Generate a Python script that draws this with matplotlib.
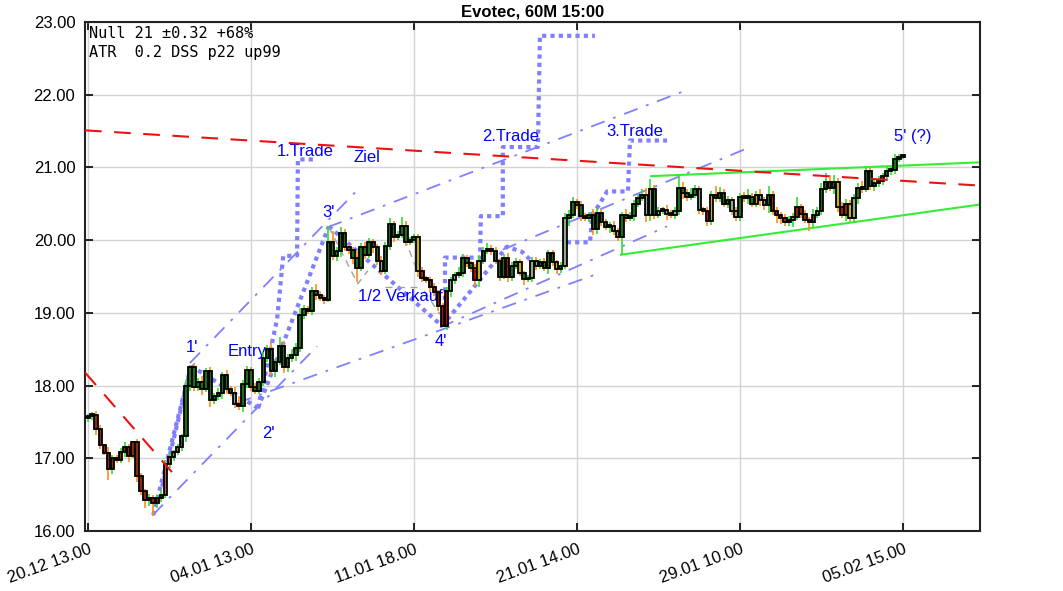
import numpy as np
import matplotlib.pyplot as plt
from matplotlib.ticker import FormatStrFormatter

plt.rcParams['font.family'] = ['Liberation Sans', 'DejaVu Sans']

# 60 minute bars, close prices (open = previous close)
first_open = 17.55
closes = [
    17.58, 17.60, 17.40, 17.18, 17.07, 16.85, 17.00, 16.98, 17.08, 17.15,
    17.03, 17.22, 16.75, 16.55, 16.42, 16.45, 16.38, 16.45, 16.50, 16.92,
    17.02, 17.08, 17.15, 17.30, 18.00, 18.25, 17.98, 18.05, 17.95, 18.20,
    17.80, 17.85, 17.90, 18.15, 17.95, 17.90, 17.75, 17.72, 18.02, 18.22,
    17.98, 17.93, 18.05, 18.38, 18.50, 18.20, 18.32, 18.55, 18.25, 18.38,
    18.42, 18.52, 18.97, 19.05, 19.02, 19.30, 19.25, 19.20, 19.18, 19.97,
    19.78, 19.85, 20.10, 19.90, 19.87, 19.75, 19.62, 19.90, 19.80, 19.98,
    19.90, 19.72, 19.58, 19.92, 20.22, 20.05, 20.07, 20.20, 19.98, 20.00,
    20.05, 19.58, 19.48, 19.45, 19.35, 19.28, 19.10, 18.82, 19.30, 19.45,
    19.52, 19.55, 19.75, 19.68, 19.62, 19.45, 19.72, 19.85, 19.88, 19.85,
    19.72, 19.50, 19.75, 19.50, 19.65, 19.70, 19.55, 19.46, 19.48, 19.72,
    19.65, 19.70, 19.62, 19.82, 19.70, 19.60, 19.65, 20.30, 20.35, 20.52,
    20.48, 20.33, 20.30, 20.35, 20.15, 20.38, 20.25, 20.18, 20.20, 20.12,
    20.05, 20.35, 20.30, 20.33, 20.50, 20.58, 20.62, 20.35, 20.70, 20.35,
    20.40, 20.42, 20.36, 20.35, 20.40, 20.72, 20.65, 20.60, 20.62, 20.70,
    20.42, 20.40, 20.26, 20.62, 20.58, 20.65, 20.50, 20.55, 20.40, 20.32,
    20.60, 20.58, 20.60, 20.50, 20.62, 20.55, 20.48, 20.62, 20.40, 20.35,
    20.30, 20.25, 20.28, 20.32, 20.45, 20.36, 20.28, 20.25, 20.35, 20.40,
    20.70, 20.80, 20.72, 20.80, 20.45, 20.35, 20.50, 20.30, 20.58, 20.72,
    20.70, 20.95, 20.75, 20.78, 20.82, 20.88, 20.95, 20.97, 21.12, 21.15,
    21.17,
]
# wick length above / below the body, in cents
wick_up = [
    3, 4, 5, 6, 2, 8, 5, 4, 6, 7, 5, 2, 4, 5, 3, 6, 4, 5, 6, 5,
    6, 4, 5, 4, 8, 3, 6, 5, 8, 4, 6, 5, 7, 4, 6, 5, 8, 10, 6, 5,
    4, 6, 5, 8, 6, 10, 5, 12, 6, 5, 8, 6, 10, 6, 5, 5, 10, 5, 4, 22,
    15, 6, 8, 5, 5, 4, 10, 6, 8, 5, 4, 5, 6, 6, 8, 5, 5, 12, 6, 5,
    4, 4, 5, 3, 4, 6, 4, 3, 6, 5, 4, 8, 6, 5, 4, 5, 6, 6, 8, 6,
    5, 4, 6, 8, 5, 6, 4, 3, 4, 5, 5, 4, 6, 5, 4, 3, 5, 8, 6, 8,
    5, 6, 5, 4, 8, 6, 5, 4, 5, 6, 5, 4, 8, 6, 5, 6, 8, 10, 14, 6,
    5, 4, 6, 5, 6, 16, 8, 6, 10, 6, 5, 4, 6, 6, 12, 8, 5, 6, 5, 6,
    5, 6, 10, 5, 6, 8, 5, 12, 6, 5, 4, 6, 5, 6, 15, 5, 6, 4, 8, 6,
    8, 12, 10, 10, 6, 8, 6, 5, 6, 6, 10, 6, 5, 5, 6, 5, 6, 4, 6, 3,
    2,
]
wick_dn = [
    5, 6, 8, 5, 3, 15, 6, 5, 4, 6, 8, 3, 8, 6, 10, 8, 18, 6, 5, 4,
    5, 6, 4, 5, 8, 8, 6, 5, 8, 4, 10, 6, 5, 8, 6, 5, 6, 5, 8, 5,
    6, 5, 4, 6, 5, 6, 8, 4, 8, 6, 5, 8, 6, 5, 4, 5, 8, 4, 6, 3,
    5, 6, 8, 5, 6, 8, 20, 4, 6, 5, 8, 6, 6, 4, 5, 8, 5, 4, 6, 5,
    4, 8, 5, 4, 6, 5, 8, 1, 6, 8, 5, 4, 6, 5, 6, 8, 10, 5, 4, 6,
    5, 6, 4, 8, 6, 5, 4, 8, 4, 5, 6, 5, 4, 8, 5, 6, 5, 4, 10, 5,
    5, 6, 4, 5, 8, 6, 5, 4, 8, 5, 6, 25, 5, 4, 6, 5, 4, 10, 8, 6,
    5, 4, 8, 5, 6, 5, 8, 6, 5, 4, 6, 5, 7, 5, 5, 6, 4, 6, 5, 5,
    6, 5, 8, 4, 5, 8, 6, 10, 5, 12, 8, 6, 5, 10, 4, 6, 5, 13, 8, 5,
    6, 5, 4, 8, 6, 5, 8, 5, 6, 8, 5, 4, 6, 8, 5, 6, 4, 5, 6, 4,
    3,
]
# indicator colour class of every bar body
body_codes = ('r' * 19 + 'o' * 4 + 'g' * 13 + 'l' + 'g' * 35 + 'l' + 'g' * 8 + 'y'
              + 'r' * 4 + 'R' * 3 + 'l' * 2 + 'g' * 4 + 'R' + 'y' + 'g' * 6 + 'R'
              + 'g' * 2 + 'y' + 'g' * 2 + 'l' * 2 + 'g' * 4 + 'y' + 'g' + 'l'
              + 'g' * 11 + 'l' * 2 + 'g' * 6 + 'l' * 2 + 'g' + 'l' * 5 + 'g' * 5
              + 'l' * 2 + 'R' + 'y' + 'g' * 4 + 'l' * 2 + 'g' * 4 + 'y' + 'l' * 2
              + 'g' + 'r' * 5 + 'l' + 'r' * 5 + 'l' + 'g' * 4 + 'y' + 'r' * 2
              + 'y' + 'l' + 'g' * 12)
code_colors = {'r': '#8c2a0c', 'o': '#c0661e', 'g': '#1e6b1e',
               'l': '#8fa88f', 'y': '#c8b418', 'R': '#a81010'}

tick_pos = [0, 40, 80, 120, 160, 200]
tick_labels = ['20.12 13.00', '04.01 13.00', '11.01 18.00',
               '21.01 14.00', '29.01 10.00', '05.02 15.00']

# drawn trend lines, (bar index, price)
red_lines = [([-0.74, 218.9], [21.51, 20.75]),
             ([-0.74, 20.6], [18.18, 16.81])]
green_lines = [([138.2, 218.9], [20.88, 21.07]),
               ([130.8, 218.9], [19.80, 20.49])]
dashdot_lines = [([15.9, 56.2], [16.22, 18.54]),
                 ([25.0, 66.3], [18.31, 20.70]),
                 ([36.6, 125.2], [17.76, 19.54]),
                 ([58.9, 147.7], [20.18, 22.08]),
                 ([101.8, 161.2], [19.87, 21.25]),
                 ([86.4, 142.1], [18.80, 20.19])]
wave_paths = [([16.0, 25.3], [16.22, 18.27]),
              ([18.2, 25.0], [16.61, 18.19]),
              ([25.3, 41.7], [18.27, 17.69]),
              ([41.7, 59.1], [17.69, 20.19]),
              ([59.1, 86.9], [20.19, 18.82]),
              ([86.9, 102.8, 106.5, 108.5], [18.82, 19.91, 19.84, 19.73])]
trade_steps = [([41.7, 46.4, 47.9, 51.3, 51.5, 56.2],
                [17.69, 18.91, 19.78, 19.79, 21.11, 21.11]),
               ([87.6, 87.6, 96.2, 96.4, 101.8, 101.8, 110.4, 110.9, 124.4],
                [18.95, 19.76, 19.76, 20.33, 20.33, 21.28, 21.28, 22.81, 22.81]),
               ([117.5, 123.2, 123.7, 127.4, 132.5, 133.0, 142.1],
                [19.97, 19.97, 20.33, 20.67, 20.67, 21.37, 21.37])]
gray_lines = [([59.1, 66.2, 68.7], [20.18, 19.40, 19.58]),
              ([76.6, 80.8], [20.18, 19.58]),
              ([72.9, 82.0], [19.36, 19.36]),
              ([82.5, 86.4], [19.30, 18.98])]

label_text = ["1'", "Entry", "2'", "1.Trade", "Ziel", "3'", "1/2 Verkauf",
              "4'", "2.Trade", "3.Trade", "5' (?)"]
label_x = [25.5, 39.0, 44.2, 53.3, 68.5, 59.1, 76.6, 86.6, 103.6, 134.2, 202.5]
label_y = [18.52, 18.47, 17.34, 21.22, 21.13, 20.38, 19.22, 18.60, 21.42, 21.50, 21.43]

info = "Null 21 \u00b10.32 +68%\nATR  0.2 DSS p22 up99"

c = np.array(closes)
o = np.array([first_open] + closes[:-1])
hi = np.maximum(o, c) + np.array(wick_up) / 100
lo = np.minimum(o, c) - np.array(wick_dn) / 100
idx = np.arange(len(c))

fig = plt.figure(figsize=(10.63, 5.91), dpi=100)
ax = fig.add_axes([85 / 1063, 60 / 591, 895 / 1063, 509 / 591])

for xs, ys in dashdot_lines:
    ax.plot(xs, ys, color='#7f7fff', lw=1.3, ls=(0, (8, 5, 1.5, 5)), zorder=2)
for xs, ys in wave_paths + trade_steps:
    ax.plot(xs, ys, color='#7f7fff', lw=3, ls=(0, (1, 1)), zorder=2)
for xs, ys in gray_lines:
    ax.plot(xs, ys, color='#a0a0a0', lw=1, ls=(0, (5, 4)), zorder=2)
for xs, ys in green_lines:
    ax.plot(xs, ys, color='#33ee33', lw=1.5, zorder=2)

for t, x, y in zip(label_text, label_x, label_y):
    ax.text(x, y, t, color='#0000ff', fontsize=12, ha='center', va='center', zorder=2.5)

wick_cols = ['#33dd33' if cc >= oo else '#ff8c1a' for oo, cc in zip(o, c)]
ax.vlines(idx, lo, hi, colors=wick_cols, lw=1.2, zorder=3)
ax.bar(idx, np.maximum(np.abs(c - o), 0.025), bottom=np.minimum(o, c), width=0.85,
       color=[code_colors[k] for k in body_codes], edgecolor='black', linewidth=1.3,
       zorder=4)

for xs, ys in red_lines:
    ax.plot(xs, ys, color='#ee1111', lw=1.5, ls=(0, (8, 6)), zorder=5)

ax.text(0.005, 0.993, info, transform=ax.transAxes, family='DejaVu Sans Mono',
        fontsize=11, va='top', ha='left', linespacing=1.35)

ax.set_xlim(-0.74, 218.9)
ax.set_ylim(16, 23)
ax.set_yticks(np.arange(16, 23.01, 1))
ax.yaxis.set_major_formatter(FormatStrFormatter('%.2f'))
ax.set_xticks(tick_pos)
ax.set_xticklabels(tick_labels, rotation=20, ha='right', rotation_mode='anchor',
                   fontsize=11.5)
ax.tick_params(direction='in', top=True, right=True, length=6, width=1.2,
               labelsize=12, pad=7)
ax.tick_params(axis='x', pad=8)
ax.grid(True, color='#d3d3d3', lw=1)
ax.set_axisbelow(True)
for s in ax.spines.values():
    s.set_color('#222222')
    s.set_linewidth(1.5)
ax.set_title('Evotec, 60M 15:00', fontsize=12, fontweight='bold', pad=4)

fig.savefig('out.png', dpi=100)
